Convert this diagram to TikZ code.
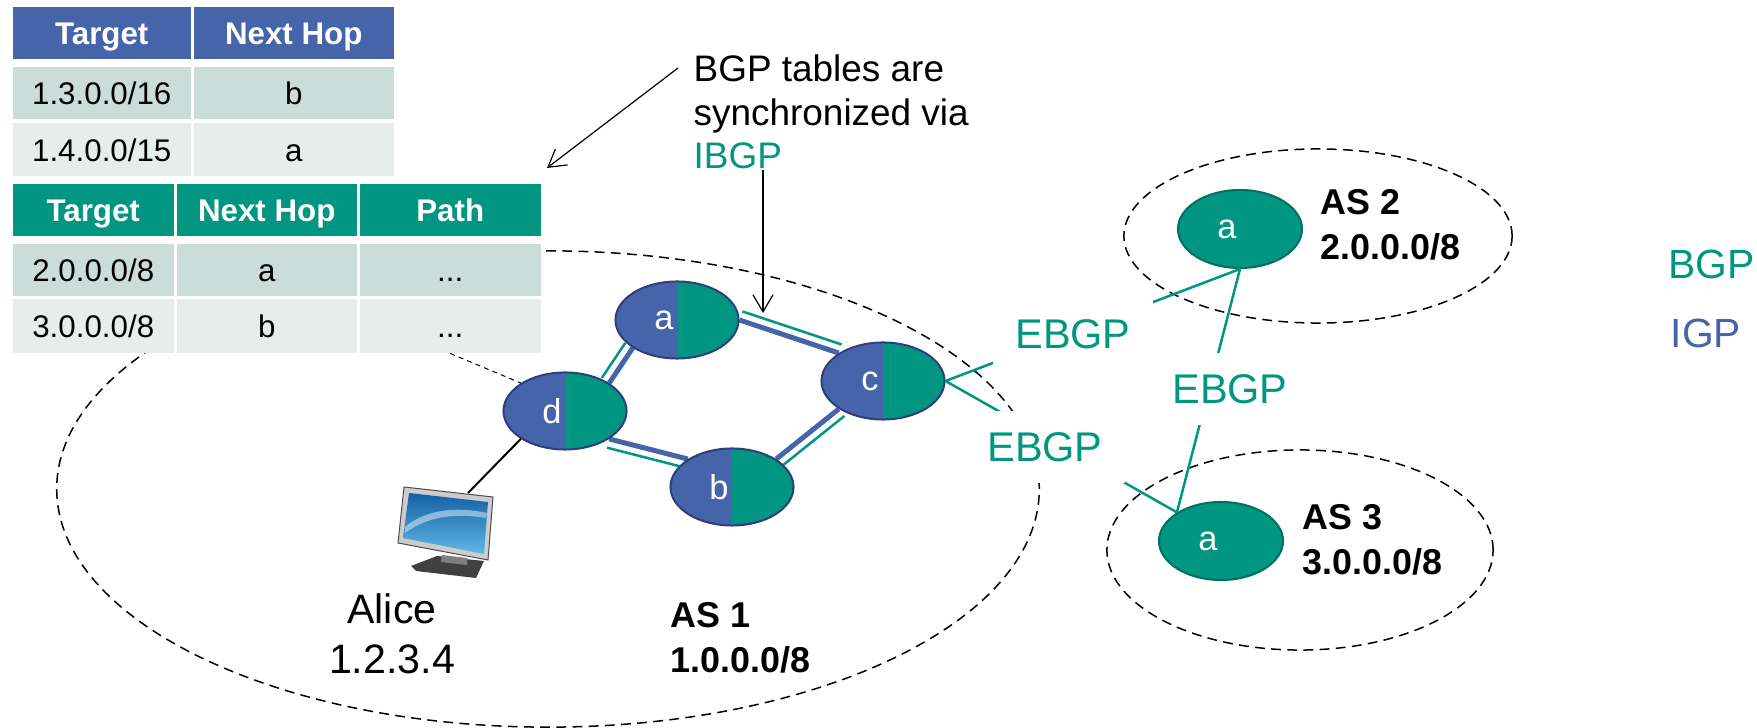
\documentclass[tikz,border=0pt]{standalone}
\usepackage{fontspec}
\setmainfont{Liberation Sans}
\usetikzlibrary{shapes.geometric, arrows.meta, backgrounds, calc}

\definecolor{bgpgreen}{RGB}{0,150,130}
\definecolor{igpblue}{RGB}{70,100,170}
\definecolor{rtrline}{RGB}{47,62,122}
\definecolor{asline}{RGB}{0,112,96}
\definecolor{rowdark}{RGB}{202,221,216}
\definecolor{rowlight}{RGB}{229,238,235}
\definecolor{scrtop}{RGB}{20,95,165}
\definecolor{scrbot}{RGB}{95,185,228}

\tikzset{
  % table cells
  tcell/.style={rectangle, inner sep=0pt, anchor=north west, text height=6.9pt, text depth=0pt,
    font=\fontsize{8.9}{10}\selectfont},
  thead/.style={tcell, text=white, font=\fontsize{8.9}{10}\selectfont\bfseries},
  % routers
  rtrlabel/.style={text=white, xshift=-0.13cm, font=\fontsize{9.8}{11}\selectfont},
  router/.style={ellipse, draw=rtrline, line width=0.02cm, fill=igpblue, inner sep=0pt,
    minimum width=1.23cm, minimum height=0.77cm,
    path picture={\fill[bgpgreen] (path picture bounding box.north) rectangle (path picture bounding box.south east);},
    label={[rtrlabel]center:#1}},
  asrouter/.style={ellipse, draw=asline, line width=0.02cm, fill=bgpgreen, inner sep=0pt,
    minimum width=1.24cm, minimum height=0.78cm, label={[rtrlabel]center:#1}},
  % links
  igp/.style={igpblue, line width=0.05cm},
  ibgp/.style={bgpgreen, line width=0.025cm},
  ebgp/.style={bgpgreen, line width=0.025cm},
  ebgplabel/.style={fill=white, text=bgpgreen, inner sep=0pt, minimum width=1.6cm, minimum height=0.72cm,
    font=\fontsize{11.8}{14}\selectfont},
  hostlink/.style={black, line width=0.02cm},
  asborder/.style={black, line width=0.015cm, dash pattern=on 2.8pt off 1.8pt},
  tabledash/.style={black, line width=0.01cm, dash pattern=on 1.4pt off 1.2pt},
  note/.style={black, line width=0.012cm, -{Straight Barb[length=0.17cm, width=0.2cm]}},
  % texts (multi-line ones are placed by their last baseline)
  synctext/.style={align=left, inner sep=0pt, font=\fontsize{10.5}{12.5}\selectfont},
  aslabel/.style={align=left, inner sep=0pt, font=\fontsize{10.2}{13}\selectfont\bfseries},
  hostlabel/.style={align=center, inner sep=0pt, font=\fontsize{11.7}{14.5}\selectfont},
  legend/.style={inner sep=0pt, font=\fontsize{11.6}{14}\selectfont}
}

\begin{document}
\begin{tikzpicture}[x=0.01cm, y=-0.01cm]
    \useasboundingbox (0,0) rectangle (1757,728);

    % IGP table
    \node[thead, fill=igpblue, minimum width=1.78cm, minimum height=0.52cm] (igp00) at (12,6) {Target};
    \node[thead, fill=igpblue, minimum width=2.00cm, minimum height=0.52cm] (igp01) at (193,6) {Next Hop};
    \node[tcell, fill=rowdark, minimum width=1.78cm, minimum height=0.52cm] (igp10) at (12,66) {1.3.0.0/16};
    \node[tcell, fill=rowdark, minimum width=2.00cm, minimum height=0.52cm] (igp11) at (193,66) {b};
    \node[tcell, fill=rowlight, minimum width=1.78cm, minimum height=0.53cm] (igp20) at (12,122) {1.4.0.0/15};
    \node[tcell, fill=rowlight, minimum width=2.00cm, minimum height=0.53cm] (igp21) at (193,122) {a};

    % BGP table
    \node[thead, fill=bgpgreen, minimum width=1.61cm, minimum height=0.52cm] (bgp00) at (12,183) {Target};
    \node[thead, fill=bgpgreen, minimum width=1.80cm, minimum height=0.52cm] (bgp01) at (176,183) {Next Hop};
    \node[thead, fill=bgpgreen, minimum width=1.81cm, minimum height=0.52cm] (bgp02) at (359,183) {Path};
    \node[tcell, fill=rowdark, minimum width=1.61cm, minimum height=0.52cm] (bgp10) at (12,243) {2.0.0.0/8};
    \node[tcell, fill=rowdark, minimum width=1.80cm, minimum height=0.52cm] (bgp11) at (176,243) {a};
    \node[tcell, fill=rowdark, minimum width=1.81cm, minimum height=0.52cm] (bgp12) at (359,243) {...};
    \node[tcell, fill=rowlight, minimum width=1.61cm, minimum height=0.54cm] (bgp20) at (12,298) {3.0.0.0/8};
    \node[tcell, fill=rowlight, minimum width=1.80cm, minimum height=0.54cm] (bgp21) at (176,298) {b};
    \node[tcell, fill=rowlight, minimum width=1.81cm, minimum height=0.54cm] (bgp22) at (359,298) {...};

    % Routers
    \node[router=a] (a) at (677,320) {};
    \node[router=d] (d) at (565,411) {};
    \node[router=c] (c) at (883,381) {};
    \node[router=b] (b) at (732,487) {};
    \node[asrouter=a] (as2a) at (1240,229) {};
    \node[asrouter=a] (as3a) at (1221,541) {};

    \begin{scope}[on background layer]
        % AS borders
        \draw[asborder] (548,489) ellipse [x radius=4.91cm, y radius=2.38cm];
        \draw[asborder] (1318,236) ellipse [x radius=1.94cm, y radius=0.87cm];
        \draw[asborder] (1300,550) ellipse [x radius=1.93cm, y radius=1.00cm];
        % the tables hide the border behind them
        \fill[white] (bgp00.north west) rectangle (bgp22.south east);
        % IGP and IBGP links inside AS 1
        \foreach \p/\q in {d.north east/a.south west, a.east/c.north west, c.south west/b.north east, b.north west/d.south east} {
            \draw[igp] (\p) -- (\q);
            \draw[ibgp] ($(\p)!0.09cm!90:(\q)$) -- ($(\q)!0.09cm!-90:(\p)$);
        }
    \end{scope}

    % Table of d
    \draw[tabledash] (bgp22.south) -- (d.north west);

    % Alice's computer
    \coordinate (pc) at (468,493);
    \draw[hostlink] (d.south west) -- (pc);
    \fill[black!75] (411,566) -- (437,556) -- (484,561) -- (476,578) -- (416,571) -- cycle;
    \fill[black!50] (442,555) -- (467,558) -- (467,565) -- (441,562) -- cycle;
    \filldraw[fill=gray!40, draw=gray!60!black, line width=0.01cm] (404,487) -- (493,497) -- (488,560) -- (398,543) -- cycle;
    \shade[top color=scrtop, bottom color=scrbot] (409,493) -- (488,502) -- (484,554) -- (403,538) -- cycle;
    \fill[white, opacity=0.45] (405,527) .. controls (425,510) and (455,506) .. (487,513) -- (486,518) .. controls (455,513) and (428,516) .. (405,533) -- cycle;
    \node[hostlabel, anchor=base] (alice) at (392,674) {Alice\\1.2.3.4};

    % EBGP sessions
    \draw[ebgp] (c.east) -- (as2a.south);
    \draw[ebgp] (c.east) -- (as3a.147);
    \draw[ebgp] (as2a.south) -- (as3a.147);
    \node[ebgplabel] (ebgp1) at (1073,334) {EBGP};
    \node[ebgplabel] (ebgp2) at (1230,389) {EBGP};
    \node[ebgplabel] (ebgp3) at (1045,447) {EBGP};

    % AS names
    \node[aslabel, anchor=base west] (as1) at (670,673) {AS 1\\1.0.0.0/8};
    \node[aslabel, anchor=base west] (as2) at (1320,260) {AS 2\\2.0.0.0/8};
    \node[aslabel, anchor=base west] (as3) at (1302,575) {AS 3\\3.0.0.0/8};

    % Note on IBGP
    \node[synctext, anchor=base west] (sync) at (693,169) {BGP tables are\\synchronized via\\\textcolor{bgpgreen}{IBGP}};
    \coordinate (syncfrom) at (678,68);
    \coordinate (synctip) at (547,168);
    \coordinate (ibgpfrom) at (763,170);
    \coordinate (ibgptip) at (763,313);
    \draw[note] (syncfrom) -- (synctip);
    \draw[note] (ibgpfrom) -- (ibgptip);

    % Legend
    \node[legend, text=bgpgreen, anchor=base west] (lgbgp) at (1668,279) {BGP};
    \node[legend, text=igpblue, anchor=base west] (lgigp) at (1670,348) {IGP};
\end{tikzpicture}
\end{document}
